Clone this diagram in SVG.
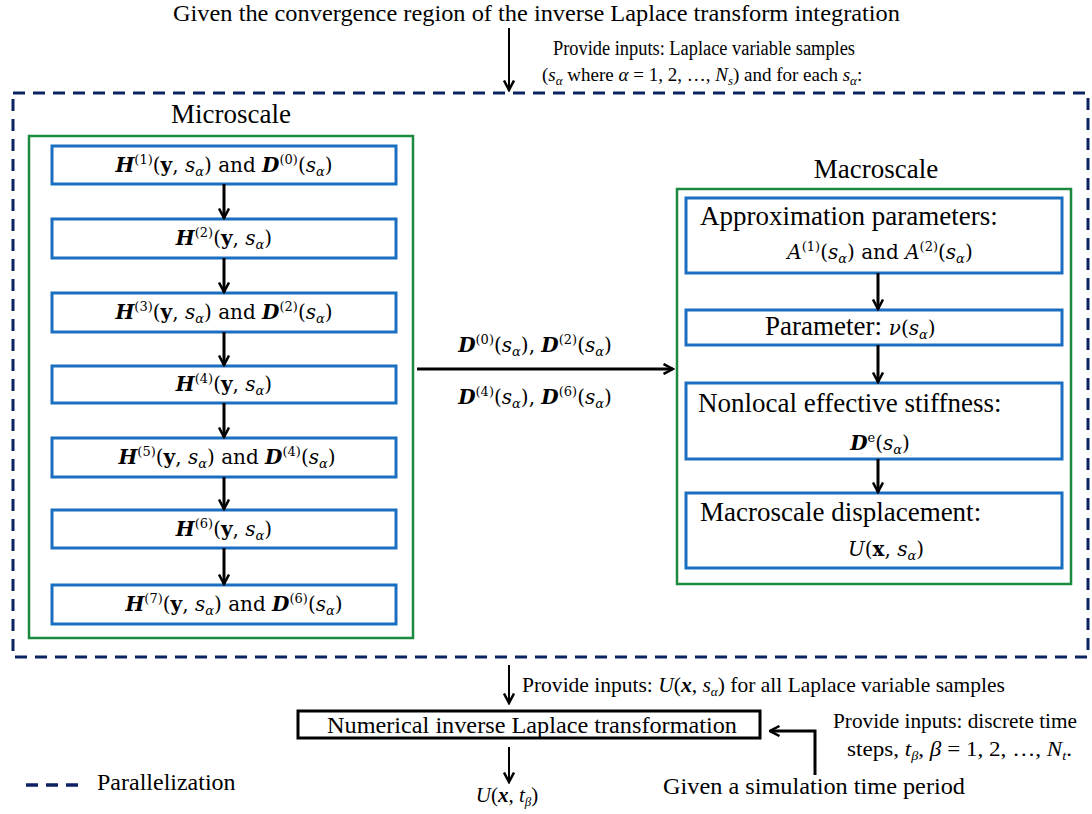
<svg xmlns="http://www.w3.org/2000/svg" width="1092" height="814" viewBox="0 0 1092 814">
<style>
.t{font-family:"Liberation Serif","Times New Roman",serif;fill:#000}
.m{font-family:"DejaVu Serif","Liberation Serif",serif;fill:#000;font-size:20px}
.bi{font-weight:bold;font-style:italic}
.b{font-weight:bold}
.i{font-style:italic}
.s{font-size:13px}
.dash{fill:none;stroke:#0b2461;stroke-width:3;stroke-dasharray:12 8}
.green{fill:#fff;stroke:#1b8a3f;stroke-width:2.5}
.blue{fill:#fff;stroke:#1b6fc0;stroke-width:3}
.arr{fill:none;stroke:#000;stroke-width:3;marker-end:url(#ah)}
.arr2{fill:none;stroke:#000;stroke-width:2;marker-end:url(#ah)}
</style>
<defs>
<marker id="ah" viewBox="0 0 12 12" markerWidth="12" markerHeight="12" markerUnits="userSpaceOnUse" refX="10.5" refY="6" orient="auto">
<path d="M1,1 L10.5,6 L1,11" fill="none" stroke="#000" stroke-width="2.5"/>
</marker>
</defs>
<rect width="1092" height="814" fill="#fff"/>

<g id="top-text">
<text class="t" x="173" y="21" font-size="23.5" textLength="727" lengthAdjust="spacingAndGlyphs">Given the convergence region of the inverse Laplace transform integration</text>
<text class="t" x="553" y="55" font-size="20" textLength="302" lengthAdjust="spacingAndGlyphs">Provide inputs: Laplace variable samples</text>
<text class="t" x="542" y="81" font-size="19">(<tspan class="i">s</tspan><tspan class="i s" dy="4">α</tspan><tspan dy="-4"> where </tspan><tspan class="i">α</tspan> = 1, 2, …, <tspan class="i">N</tspan><tspan class="i s" dy="4">s</tspan><tspan dy="-4">) and for each </tspan><tspan class="i">s</tspan><tspan class="i s" dy="4">α</tspan><tspan dy="-4">:</tspan></text>
</g>

<g id="parallel-region">
<rect class="dash" x="13" y="93" width="1075" height="564"/>
</g>

<g id="microscale">
<rect class="green" x="29" y="136" width="384" height="502"/>
<text class="t" x="231" y="123" font-size="27" text-anchor="middle">Microscale</text>
</g>

<g id="micro1">
<rect class="blue" x="52" y="146" width="344" height="38"/>
<text class="m" x="224" y="172" text-anchor="middle"><tspan class="bi">H</tspan><tspan class="s" dy="-8">(1)</tspan><tspan dy="8">(</tspan><tspan class="b">y</tspan>, <tspan class="i">s</tspan><tspan class="s i" dy="4">α</tspan><tspan dy="-4">) and </tspan><tspan class="bi">D</tspan><tspan class="s" dy="-8">(0)</tspan><tspan dy="8">(</tspan><tspan class="i">s</tspan><tspan class="s i" dy="4">α</tspan><tspan dy="-4">)</tspan></text>
</g>
<g id="micro2">
<rect class="blue" x="52" y="219" width="344" height="39"/>
<text class="m" x="224" y="245" text-anchor="middle"><tspan class="bi">H</tspan><tspan class="s" dy="-8">(2)</tspan><tspan dy="8">(</tspan><tspan class="b">y</tspan>, <tspan class="i">s</tspan><tspan class="s i" dy="4">α</tspan><tspan dy="-4">)</tspan></text>
</g>
<g id="micro3">
<rect class="blue" x="52" y="293" width="344" height="39"/>
<text class="m" x="224" y="319" text-anchor="middle"><tspan class="bi">H</tspan><tspan class="s" dy="-8">(3)</tspan><tspan dy="8">(</tspan><tspan class="b">y</tspan>, <tspan class="i">s</tspan><tspan class="s i" dy="4">α</tspan><tspan dy="-4">) and </tspan><tspan class="bi">D</tspan><tspan class="s" dy="-8">(2)</tspan><tspan dy="8">(</tspan><tspan class="i">s</tspan><tspan class="s i" dy="4">α</tspan><tspan dy="-4">)</tspan></text>
</g>
<g id="micro4">
<rect class="blue" x="52" y="366" width="344" height="37"/>
<text class="m" x="224" y="391" text-anchor="middle"><tspan class="bi">H</tspan><tspan class="s" dy="-8">(4)</tspan><tspan dy="8">(</tspan><tspan class="b">y</tspan>, <tspan class="i">s</tspan><tspan class="s i" dy="4">α</tspan><tspan dy="-4">)</tspan></text>
</g>
<g id="micro5">
<rect class="blue" x="52" y="438" width="344" height="39"/>
<text class="m" x="227" y="464" text-anchor="middle"><tspan class="bi">H</tspan><tspan class="s" dy="-8">(5)</tspan><tspan dy="8">(</tspan><tspan class="b">y</tspan>, <tspan class="i">s</tspan><tspan class="s i" dy="4">α</tspan><tspan dy="-4">) and </tspan><tspan class="bi">D</tspan><tspan class="s" dy="-8">(4)</tspan><tspan dy="8">(</tspan><tspan class="i">s</tspan><tspan class="s i" dy="4">α</tspan><tspan dy="-4">)</tspan></text>
</g>
<g id="micro6">
<rect class="blue" x="52" y="510" width="344" height="38"/>
<text class="m" x="224" y="536" text-anchor="middle"><tspan class="bi">H</tspan><tspan class="s" dy="-8">(6)</tspan><tspan dy="8">(</tspan><tspan class="b">y</tspan>, <tspan class="i">s</tspan><tspan class="s i" dy="4">α</tspan><tspan dy="-4">)</tspan></text>
</g>
<g id="micro7">
<rect class="blue" x="52" y="585" width="344" height="39"/>
<text class="m" x="234" y="611" text-anchor="middle"><tspan class="bi">H</tspan><tspan class="s" dy="-8">(7)</tspan><tspan dy="8">(</tspan><tspan class="b">y</tspan>, <tspan class="i">s</tspan><tspan class="s i" dy="4">α</tspan><tspan dy="-4">) and </tspan><tspan class="bi">D</tspan><tspan class="s" dy="-8">(6)</tspan><tspan dy="8">(</tspan><tspan class="i">s</tspan><tspan class="s i" dy="4">α</tspan><tspan dy="-4">)</tspan></text>
</g>

<g id="macroscale">
<rect class="green" x="677" y="189" width="394" height="395"/>
<text class="t" x="876" y="178" font-size="27" text-anchor="middle">Macroscale</text>
</g>
<g id="macro1">
<rect class="blue" x="686" y="198" width="376" height="75"/>
<text class="t" x="700" y="225" font-size="27">Approximation parameters:</text>
<text class="m" x="880" y="259" text-anchor="middle"><tspan class="i">A</tspan><tspan class="s" dy="-8">(1)</tspan><tspan dy="8">(</tspan><tspan class="i">s</tspan><tspan class="s i" dy="4">α</tspan><tspan dy="-4">) and </tspan><tspan class="i">A</tspan><tspan class="s" dy="-8">(2)</tspan><tspan dy="8">(</tspan><tspan class="i">s</tspan><tspan class="s i" dy="4">α</tspan><tspan dy="-4">)</tspan></text>
</g>
<g id="macro2">
<rect class="blue" x="686" y="310" width="376" height="35"/>
<text class="t" x="765" y="335" font-size="27">Parameter:  <tspan class="m i" font-size="23">ν</tspan><tspan class="m" font-size="23">(</tspan><tspan class="m i" font-size="23">s</tspan><tspan class="m s i" dy="4">α</tspan><tspan class="m" font-size="23" dy="-4">)</tspan></text>
</g>
<g id="macro3">
<rect class="blue" x="686" y="383" width="376" height="76"/>
<text class="t" x="698" y="412" font-size="27">Nonlocal effective stiffness:</text>
<text class="m" x="880" y="450" text-anchor="middle"><tspan class="bi">D</tspan><tspan class="s" dy="-8">e</tspan><tspan dy="8">(</tspan><tspan class="i">s</tspan><tspan class="s i" dy="4">α</tspan><tspan dy="-4">)</tspan></text>
</g>
<g id="macro4">
<rect class="blue" x="686" y="493" width="376" height="75"/>
<text class="t" x="700" y="521" font-size="27">Macroscale displacement:</text>
<text class="m" x="886" y="556" text-anchor="middle" font-size="21"><tspan class="i">U</tspan>(<tspan class="b">x</tspan>, <tspan class="i">s</tspan><tspan class="s i" dy="4">α</tspan><tspan dy="-4">)</tspan></text>
</g>

<g id="inverse">
<rect x="298" y="711" width="462" height="27" fill="#fff" stroke="#000" stroke-width="3"/>
<text class="t" x="327" y="733" font-size="23" textLength="410" lengthAdjust="spacingAndGlyphs">Numerical inverse Laplace transformation</text>
</g>

<g id="connectors">
<line class="arr" x1="224" y1="184" x2="224" y2="218"/>
<line class="arr" x1="224" y1="258" x2="224" y2="292"/>
<line class="arr" x1="224" y1="332" x2="224" y2="365"/>
<line class="arr" x1="224" y1="403" x2="224" y2="437"/>
<line class="arr" x1="224" y1="477" x2="224" y2="509"/>
<line class="arr" x1="224" y1="548" x2="224" y2="584"/>
<line class="arr" x1="878" y1="273" x2="878" y2="309"/>
<line class="arr" x1="878" y1="345" x2="878" y2="382"/>
<line class="arr" x1="878" y1="459" x2="878" y2="492"/>
<line class="arr" x1="417" y1="369" x2="673" y2="369"/>
<line class="arr2" x1="509" y1="28" x2="509" y2="90"/>
<line class="arr2" x1="509" y1="665" x2="509" y2="703"/>
<line class="arr2" x1="509" y1="747" x2="509" y2="782"/>
<polyline class="arr" points="815,775 815,731 770,731"/>
</g>

<g id="labels">
<text class="m" x="535" y="352" text-anchor="middle"><tspan class="bi">D</tspan><tspan class="s" dy="-8">(0)</tspan><tspan dy="8">(</tspan><tspan class="i">s</tspan><tspan class="s i" dy="4">α</tspan><tspan dy="-4">),  </tspan><tspan class="bi">D</tspan><tspan class="s" dy="-8">(2)</tspan><tspan dy="8">(</tspan><tspan class="i">s</tspan><tspan class="s i" dy="4">α</tspan><tspan dy="-4">)</tspan></text>
<text class="m" x="535" y="404" text-anchor="middle"><tspan class="bi">D</tspan><tspan class="s" dy="-8">(4)</tspan><tspan dy="8">(</tspan><tspan class="i">s</tspan><tspan class="s i" dy="4">α</tspan><tspan dy="-4">),  </tspan><tspan class="bi">D</tspan><tspan class="s" dy="-8">(6)</tspan><tspan dy="8">(</tspan><tspan class="i">s</tspan><tspan class="s i" dy="4">α</tspan><tspan dy="-4">)</tspan></text>
<text class="t" x="522" y="692" font-size="21" textLength="483" lengthAdjust="spacingAndGlyphs">Provide inputs: <tspan class="i">U</tspan>(<tspan class="bi">x</tspan>, <tspan class="i">s</tspan><tspan class="s i" dy="4">α</tspan><tspan dy="-4">) for all Laplace variable samples</tspan></text>
<text class="t" x="507" y="802" text-anchor="middle" font-size="21"><tspan class="i">U</tspan>(<tspan class="bi">x</tspan>, <tspan class="i">t</tspan><tspan class="s i" dy="4">β</tspan><tspan dy="-4">)</tspan></text>
<text class="t" x="833" y="728" font-size="21" textLength="244" lengthAdjust="spacingAndGlyphs">Provide inputs: discrete time</text>
<text class="t" x="847" y="756" font-size="21" textLength="225" lengthAdjust="spacingAndGlyphs">steps, <tspan class="i">t</tspan><tspan class="s i" dy="4">β</tspan><tspan dy="-4">, </tspan><tspan class="i">β</tspan> = 1, 2, …, <tspan class="i">N</tspan><tspan class="s i" dy="4">t</tspan><tspan dy="-4">.</tspan></text>
<text class="t" x="663" y="794" font-size="24" textLength="302" lengthAdjust="spacingAndGlyphs">Given a simulation time period</text>
</g>

<g id="legend">
<line x1="26" y1="785" x2="82" y2="785" stroke="#0b2461" stroke-width="3.5" stroke-dasharray="12 8"/>
<text class="t" x="97" y="790" font-size="24">Parallelization</text>
</g>
</svg>
